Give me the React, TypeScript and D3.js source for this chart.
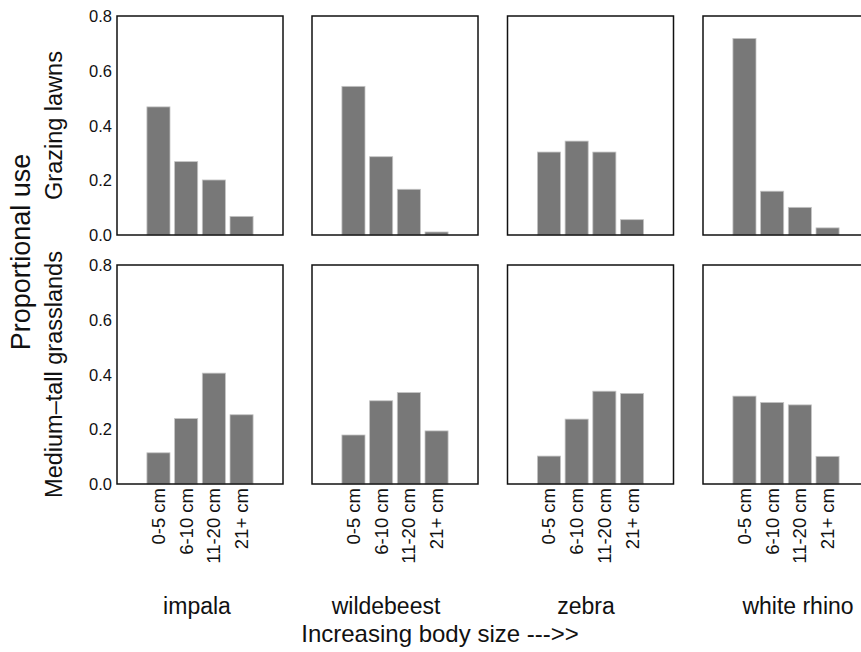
import React from "react";
import * as d3 from "d3";

const categories = ["0-5 cm", "6-10 cm", "11-20 cm", "21+ cm"];
const species = ["impala", "wildebeest", "zebra", "white rhino"];
const habitats = ["Grazing lawns", "Medium\u2013tall grasslands"];
const yTicks = [0, 0.2, 0.4, 0.6, 0.8];

const impalaGrazing = [0.468, 0.268, 0.201, 0.068];
const wildebeestGrazing = [0.543, 0.286, 0.167, 0.011];
const zebraGrazing = [0.303, 0.343, 0.303, 0.056];
const rhinoGrazing = [0.718, 0.16, 0.101, 0.026];

const impalaMedium = [0.114, 0.239, 0.405, 0.253];
const wildebeestMedium = [0.179, 0.304, 0.334, 0.194];
const zebraMedium = [0.102, 0.237, 0.339, 0.331];
const rhinoMedium = [0.321, 0.298, 0.289, 0.101];

const grazingRows = [impalaGrazing, wildebeestGrazing, zebraGrazing, rhinoGrazing];
const mediumRows = [impalaMedium, wildebeestMedium, zebraMedium, rhinoMedium];
const rows = [grazingRows, mediumRows];

const W = 861;
const H = 652;
const panelW = 166;
const panelH = 219;
const colX = [117, 312, 507.5, 703];
const rowY = [16, 265];
const labelCenters = [197, 386, 586, 798];
const font = "'Liberation Sans', Arial, Helvetica, sans-serif";

export default function App() {
  const x = d3
    .scaleBand<string>()
    .domain(categories)
    .range([0, panelW])
    .paddingInner(1 / 6)
    .paddingOuter(1.08);
  const y = d3.scaleLinear().domain([0, 0.8]).range([panelH, 0]);

  return (
    <svg
      width={W}
      height={H}
      style={{ position: "absolute", left: 0, top: 0, background: "#fff" }}
      fontFamily={font}
    >
      <rect x={0} y={0} width={W} height={H} fill="#fff" />
      {rows.map((row, ri) =>
        row.map((vals, ci) => (
          <g key={`${ri}-${ci}`} transform={`translate(${colX[ci]},${rowY[ri]})`}>
            {vals.map((v, i) => (
              <rect
                key={i}
                x={x(categories[i])}
                y={y(v)}
                width={x.bandwidth()}
                height={panelH - y(v)}
                fill="#787878"
                stroke="#c4c4c4"
                strokeWidth={0.8}
              />
            ))}
            <rect
              x={0}
              y={0}
              width={panelW}
              height={panelH}
              fill="none"
              stroke="#111"
              strokeWidth={1.5}
            />
            {ci === 0 &&
              yTicks.map((t) => (
                <text
                  key={t}
                  x={-5}
                  y={y(t)}
                  textAnchor="end"
                  dominantBaseline="central"
                  fontSize={16.5}
                  fill="#111"
                >
                  {t.toFixed(1)}
                </text>
              ))}
            {ri === 1 &&
              categories.map((c) => (
                <text
                  key={c}
                  transform={`translate(${(x(c) as number) + x.bandwidth() / 2},${panelH + 4}) rotate(-90)`}
                  textAnchor="end"
                  dominantBaseline="central"
                  fontSize={18.5}
                  fill="#111"
                >
                  {c}
                </text>
              ))}
          </g>
        ))
      )}
      {habitats.map((h, ri) => (
        <text
          key={h}
          transform={`translate(62,${rowY[ri] + panelH / 2}) rotate(-90)`}
          textAnchor="middle"
          fontSize={23.5}
          fill="#111"
        >
          {h}
        </text>
      ))}
      <text
        transform={`translate(30,252) rotate(-90)`}
        textAnchor="middle"
        fontSize={27}
        fill="#111"
      >
        Proportional use
      </text>
      {species.map((s, i) => (
        <text
          key={s}
          x={labelCenters[i]}
          y={614}
          textAnchor="middle"
          fontSize={23}
          fill="#111"
        >
          {s}
        </text>
      ))}
      <text x={440} y={642} textAnchor="middle" fontSize={24} fill="#111">
        Increasing body size ---&gt;&gt;
      </text>
    </svg>
  );
}
